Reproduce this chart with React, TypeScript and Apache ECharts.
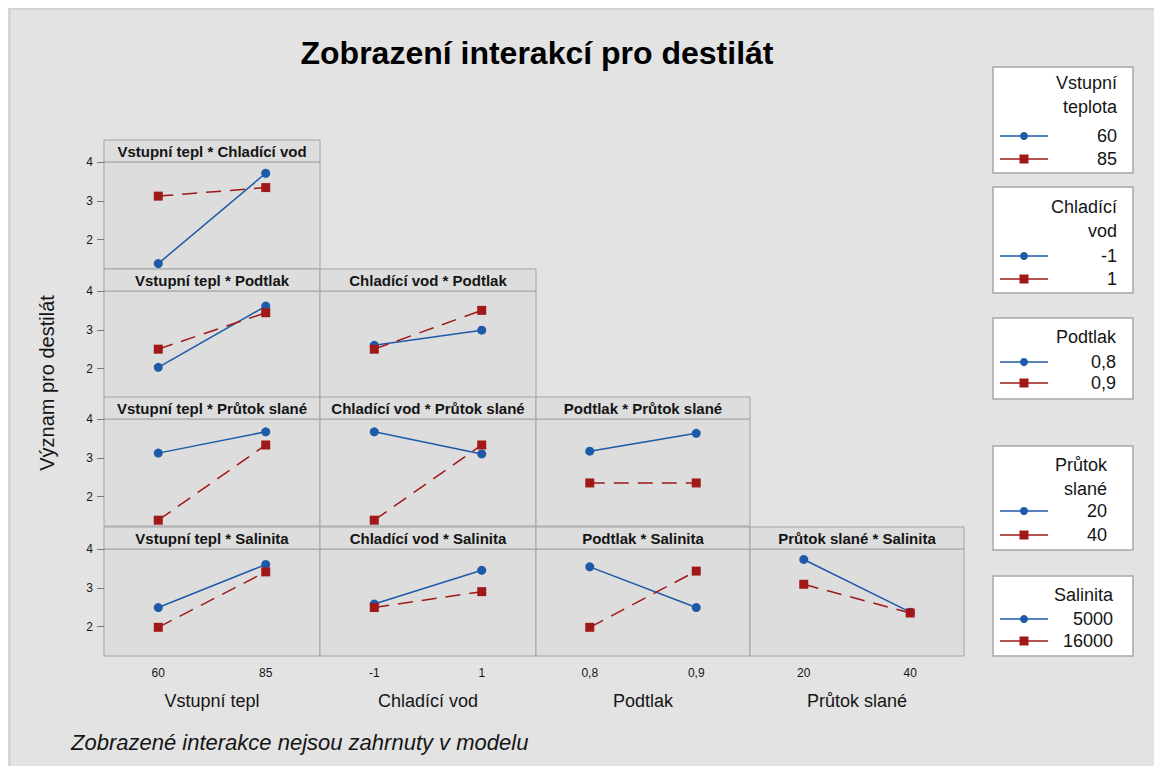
import React, { useEffect, useRef } from "react";
import * as echarts from "echarts";

// ---------- data ----------
const COL_VARS = ["Vstupní tepl", "Chladící vod", "Podtlak", "Průtok slané"];
const X_LEVELS = [["60", "85"], ["-1", "1"], ["0,8", "0,9"], ["20", "40"]];
const Y_TICKS = [2, 3, 4];
const PANEL_TITLES = [
  ["Vstupní tepl * Chladící vod"],
  ["Vstupní tepl * Podtlak", "Chladící vod * Podtlak"],
  ["Vstupní tepl * Průtok slané", "Chladící vod * Průtok slané", "Podtlak * Průtok slané"],
  ["Vstupní tepl * Salinita", "Chladící vod * Salinita", "Podtlak * Salinita", "Průtok slané * Salinita"],
];

// Row 1: trace = Chladící vod (-1 / 1)
const r1c1Low = [1.38, 3.71];
const r1c1High = [3.12, 3.34];
// Row 2: trace = Podtlak (0,8 / 0,9)
const r2c1Low = [2.03, 3.61];
const r2c1High = [2.5, 3.44];
const r2c2Low = [2.6, 2.99];
const r2c2High = [2.5, 3.5];
// Row 3: trace = Průtok slané (20 / 40)
const r3c1Low = [3.12, 3.67];
const r3c1High = [1.39, 3.33];
const r3c2Low = [3.67, 3.1];
const r3c2High = [1.39, 3.33];
const r3c3Low = [3.17, 3.63];
const r3c3High = [2.35, 2.35];
// Row 4: trace = Salinita (5000 / 16000)
const r4c1Low = [2.49, 3.6];
const r4c1High = [1.98, 3.41];
const r4c2Low = [2.58, 3.45];
const r4c2High = [2.49, 2.9];
const r4c3Low = [3.54, 2.49];
const r4c3High = [1.98, 3.43];
const r4c4Low = [3.73, 2.37];
const r4c4High = [3.09, 2.35];

const LOW = [[r1c1Low], [r2c1Low, r2c2Low], [r3c1Low, r3c2Low, r3c3Low], [r4c1Low, r4c2Low, r4c3Low, r4c4Low]];
const HIGH = [[r1c1High], [r2c1High, r2c2High], [r3c1High, r3c2High, r3c3High], [r4c1High, r4c2High, r4c3High, r4c4High]];

const LEGEND_TITLES = [["Vstupní", "teplota"], ["Chladící", "vod"], ["Podtlak"], ["Průtok", "slané"], ["Salinita"]];
const LEGEND_LEVELS = [["60", "85"], ["-1", "1"], ["0,8", "0,9"], ["20", "40"], ["5000", "16000"]];

const TITLE = "Zobrazení interakcí pro destilát";
const Y_TITLE = "Význam pro destilát";
const FOOTNOTE = "Zobrazené interakce nejsou zahrnuty v modelu";

// ---------- styling / layout ----------
const OFF = 8;
const BLUE = "#1d5aa8";
const RED = "#a01818";
const PANEL_BG = "#dddddd";
const PANEL_BORDER = "#a3a3a3";
const TXT = "#151515";
const FONT = '"Liberation Sans", Arial, sans-serif';
const COL_LEFT = [104, 320, 536, 750];
const COL_W = [216, 216, 214, 214];
const ROW_TOP = [162, 291, 419, 549];
const PLOT_H = 107;
const HEAD_H = 22;
const Y_MIN = 1.24;
const Y_MAX = 4;
const X_MIN = -0.505;
const X_MAX = 1.505;

const LEGEND_BOXES = [
  { y0: 67, y1: 173, titleY: [83, 107], itemY: [136, 159], right: 1117 },
  { y0: 187, y1: 293, titleY: [207, 231], itemY: [256, 279], right: 1117 },
  { y0: 318, y1: 399, titleY: [337], itemY: [362, 383], right: 1116 },
  { y0: 446, y1: 550, titleY: [465, 489], itemY: [511, 535], right: 1107 },
  { y0: 576, y1: 656, titleY: [595], itemY: [619, 641], right: 1113 },
];

function buildOption() {
  const grid: any[] = [];
  const xAxis: any[] = [];
  const yAxis: any[] = [];
  const series: any[] = [];
  const graphic: any[] = [];

  graphic.push({ type: "line", shape: { x1: 1.5, y1: 0, x2: 1.5, y2: 758 }, style: { stroke: "#d0d0d0", lineWidth: 2 }, silent: true });
  graphic.push({ type: "line", shape: { x1: 0, y1: 0.5, x2: 1146, y2: 0.5 }, style: { stroke: "#d0d0d0", lineWidth: 2 }, silent: true });

  let idx = 0;
  for (let r = 0; r < 4; r++) {
    for (let c = 0; c <= r; c++) {
      const left = COL_LEFT[c] - OFF;
      const top = ROW_TOP[r] - OFF;
      const w = COL_W[c];
      grid.push({
        left, top, width: w, height: PLOT_H, show: true,
        backgroundColor: PANEL_BG, borderColor: PANEL_BORDER, borderWidth: 1,
        containLabel: false, outerBoundsMode: "none",
      });
      const bottomRow = r === 3;
      const levels = X_LEVELS[c];
      xAxis.push({
        type: "value", gridIndex: idx, min: X_MIN, max: X_MAX, position: "bottom",
        axisLine: { show: false, onZero: false }, axisTick: { show: false }, splitLine: { show: false },
        axisLabel: bottomRow
          ? { show: true, customValues: [0, 1], formatter: (v: number) => levels[Math.round(v)], fontSize: 12, color: TXT, margin: 11, fontFamily: FONT }
          : { show: false },
        name: bottomRow ? COL_VARS[c] : "",
        nameLocation: "middle", nameGap: 36,
        nameTextStyle: { fontSize: 18, color: TXT, fontFamily: FONT },
      });
      const firstCol = c === 0;
      yAxis.push({
        type: "value", gridIndex: idx, min: Y_MIN, max: Y_MAX, position: "left",
        axisLine: { show: false, onZero: false }, splitLine: { show: false },
        axisTick: firstCol ? { show: true, customValues: Y_TICKS, length: 7, lineStyle: { color: "#7a7a7a" } } : { show: false },
        axisLabel: firstCol ? { show: true, customValues: Y_TICKS, fontSize: 12, color: TXT, margin: 11, fontFamily: FONT } : { show: false },
      });
      series.push({
        type: "line", xAxisIndex: idx, yAxisIndex: idx, silent: true,
        data: LOW[r][c].map((v, i) => [i, v]),
        symbol: "circle", symbolSize: 9,
        itemStyle: { color: BLUE }, lineStyle: { color: BLUE, width: 1.5 },
      });
      series.push({
        type: "line", xAxisIndex: idx, yAxisIndex: idx, silent: true,
        data: HIGH[r][c].map((v, i) => [i, v]),
        symbol: "rect", symbolSize: 9,
        itemStyle: { color: RED }, lineStyle: { color: RED, width: 1.5, type: [15, 9] },
      });
      // header strip
      graphic.push({
        type: "rect", silent: true,
        shape: { x: left, y: top - HEAD_H, width: w, height: HEAD_H },
        style: { fill: PANEL_BG, stroke: PANEL_BORDER, lineWidth: 1 },
      });
      graphic.push({
        type: "text", silent: true, x: left + w / 2, y: top - HEAD_H / 2,
        style: {
          text: PANEL_TITLES[r][c], fill: TXT, font: `bold 15px ${FONT}`,
          textAlign: "center", textVerticalAlign: "middle", align: "center", verticalAlign: "middle",
        },
      });
      idx++;
    }
  }

  // title
  graphic.push({
    type: "text", silent: true, x: 537 - OFF, y: 53 - OFF,
    style: { text: TITLE, fill: "#000", font: `bold 32px ${FONT}`, textAlign: "center", textVerticalAlign: "middle", align: "center", verticalAlign: "middle" },
  });
  // y title
  graphic.push({
    type: "text", silent: true, x: 47 - OFF, y: 383 - OFF, rotation: Math.PI / 2,
    style: { text: Y_TITLE, fill: TXT, font: `20px ${FONT}`, textAlign: "center", textVerticalAlign: "middle", align: "center", verticalAlign: "middle" },
  });
  // footnote
  graphic.push({
    type: "text", silent: true, x: 71 - OFF, y: 742 - OFF,
    style: { text: FOOTNOTE, fill: TXT, font: `italic 22px ${FONT}`, textAlign: "left", textVerticalAlign: "middle", align: "left", verticalAlign: "middle" },
  });

  // legends
  LEGEND_BOXES.forEach((b, k) => {
    graphic.push({
      type: "rect", silent: true,
      shape: { x: 993 - OFF, y: b.y0 - OFF, width: 140, height: b.y1 - b.y0 },
      style: { fill: "#ffffff", stroke: "#a8a8a8", lineWidth: 1.5 },
    });
    LEGEND_TITLES[k].forEach((t, j) => {
      graphic.push({
        type: "text", silent: true, x: b.right - OFF, y: b.titleY[j] - OFF,
        style: { text: t, fill: TXT, font: `18px ${FONT}`, textAlign: "right", textVerticalAlign: "middle", align: "right", verticalAlign: "middle" },
      });
    });
    LEGEND_LEVELS[k].forEach((lv, j) => {
      const y = b.itemY[j] - OFF;
      const col = j === 0 ? BLUE : RED;
      graphic.push({ type: "line", silent: true, shape: { x1: 1000 - OFF, y1: y, x2: 1048 - OFF, y2: y }, style: { stroke: col, lineWidth: 1.5 } });
      if (j === 0) {
        graphic.push({ type: "circle", silent: true, shape: { cx: 1024 - OFF, cy: y, r: 4 }, style: { fill: col } });
      } else {
        graphic.push({ type: "rect", silent: true, shape: { x: 1024 - OFF - 4.5, y: y - 4.5, width: 9, height: 9 }, style: { fill: col } });
      }
      graphic.push({
        type: "text", silent: true, x: b.right - OFF, y,
        style: { text: lv, fill: TXT, font: `18px ${FONT}`, textAlign: "right", textVerticalAlign: "middle", align: "right", verticalAlign: "middle" },
      });
    });
  });

  return {
    animation: false,
    backgroundColor: "#e3e3e3",
    grid, xAxis, yAxis, series, graphic,
  };
}

export default function App() {
  const ref = useRef<HTMLDivElement>(null);
  useEffect(() => {
    if (!ref.current) return;
    const chart = echarts.init(ref.current, undefined, { renderer: "svg" });
    chart.setOption(buildOption() as any);
    return () => chart.dispose();
  }, []);
  return <div ref={ref} style={{ position: "absolute", left: 8, top: 8, width: 1146, height: 758 }} />;
}
